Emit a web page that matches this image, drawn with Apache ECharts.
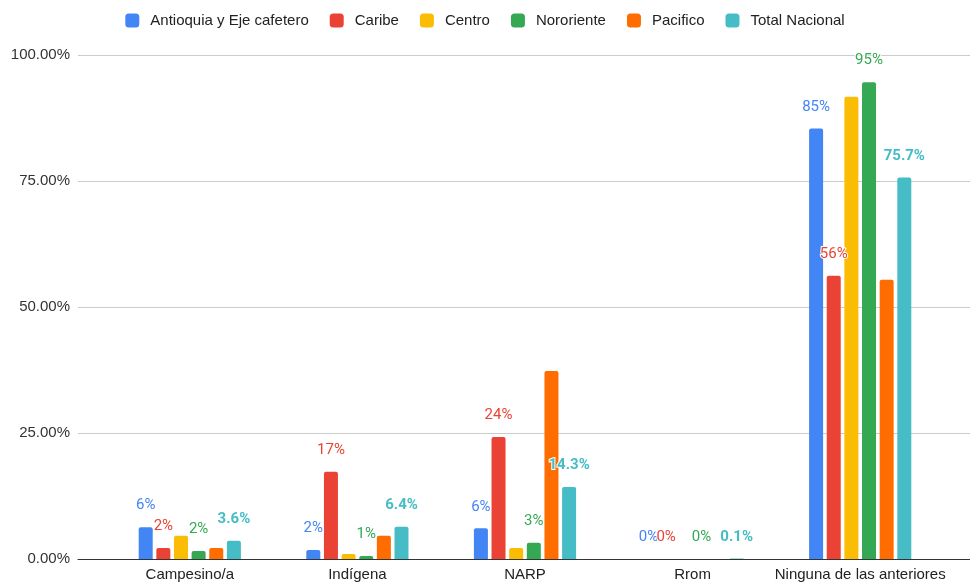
<!DOCTYPE html>
<html>
<head>
<meta charset="utf-8">
<script src="https://cdn.jsdelivr.net/npm/echarts@6/dist/echarts.min.js"></script>
<style>
  html, body { margin: 0; padding: 0; background: #fff; }
  #chart { width: 970px; height: 582px; }
</style>
</head>
<body>
<div id="chart"></div>
<script>
// categorías y valores (en %)
const categories = ['Campesino/a', 'Indígena', 'NARP', 'Rrom', 'Ninguna de las anteriores'];
const seriesNames = ['Antioquia y Eje cafetero', 'Caribe', 'Centro', 'Nororiente', 'Pacifico', 'Total Nacional'];
const antioquia = [6.3, 1.8, 6.1, 0, 85.4];
const caribe = [2.2, 17.3, 24.2, 0, 56.2];
const centro = [4.6, 1.0, 2.2, 0, 91.7];
const nororiente = [1.6, 0.6, 3.2, 0, 94.6];
const pacifico = [2.2, 4.6, 37.3, 0, 55.4];
const totalNacional = [3.6, 6.4, 14.3, 0.1, 75.7];
const yTicks = [0, 25, 50, 75, 100];

const colors = ['#4285F4', '#EA4335', '#FBBC04', '#34A853', '#FF6D01', '#46BDC6'];
const allData = [antioquia, caribe, centro, nororiente, pacifico, totalNacional];
// qué series muestran etiqueta y cómo
const labelMode = ['int', 'int', null, 'int', null, 'dec'];

const chart = echarts.init(document.getElementById('chart'));

const series = allData.map((data, i) => {
  const mode = labelMode[i];
  return {
    name: seriesNames[i],
    type: 'bar',
    xAxisIndex: 1,
    yAxisIndex: 1,
    data: data,
    barWidth: 14,
    barGap: '26%',
    itemStyle: { color: colors[i], borderRadius: [2, 2, 0, 0] },
    label: {
      show: mode !== null,
      position: 'top',
      distance: 14,
      color: colors[i],
      fontFamily: 'Roboto',
      fontSize: 15,
      fontWeight: mode === 'dec' ? 'bold' : 'normal',
      textBorderColor: '#fff',
      textBorderWidth: 2,
      formatter: p => mode === 'dec' ? p.value.toFixed(1) + '%' : Math.round(p.value) + '%'
    }
  };
});

const option = {
  animation: false,
  color: colors,
  textStyle: { fontFamily: 'Liberation Sans' },
  legend: {
    top: 8,
    left: 'center',
    icon: 'roundRect',
    itemWidth: 14,
    itemHeight: 14,
    itemGap: 21,
    textStyle: { fontFamily: 'Liberation Sans', fontSize: 15, color: '#222', padding: [0, 0, 0, 6] },
    data: seriesNames
  },
  grid: [
    { left: 78, right: 0, top: 55, bottom: 23 },
    { left: 106, right: 26, top: 55, bottom: 23 }
  ],
  xAxis: [
    {
      gridIndex: 0,
      type: 'category',
      data: [''],
      axisLine: { lineStyle: { color: '#333', width: 1 } },
      axisTick: { show: false },
      axisLabel: { show: false }
    },
    {
      gridIndex: 1,
      type: 'category',
      data: categories,
      axisLine: { show: false },
      axisTick: { show: false },
      axisLabel: { color: '#222', fontSize: 15, margin: 8, fontFamily: 'Liberation Sans', interval: 0 }
    }
  ],
  yAxis: [
    {
      gridIndex: 0,
      type: 'value',
      min: yTicks[0],
      max: yTicks[yTicks.length - 1],
      interval: 25,
      axisLine: { show: false },
      axisTick: { show: false },
      axisLabel: { color: '#333', fontSize: 15, margin: 8, fontFamily: 'Liberation Sans', formatter: v => v.toFixed(2) + '%' },
      splitLine: { lineStyle: { color: '#ccc' } }
    },
    {
      gridIndex: 1,
      type: 'value',
      min: 0,
      max: 100,
      show: false
    }
  ],
  series: series
};

chart.setOption(option);
</script>
</body>
</html>
